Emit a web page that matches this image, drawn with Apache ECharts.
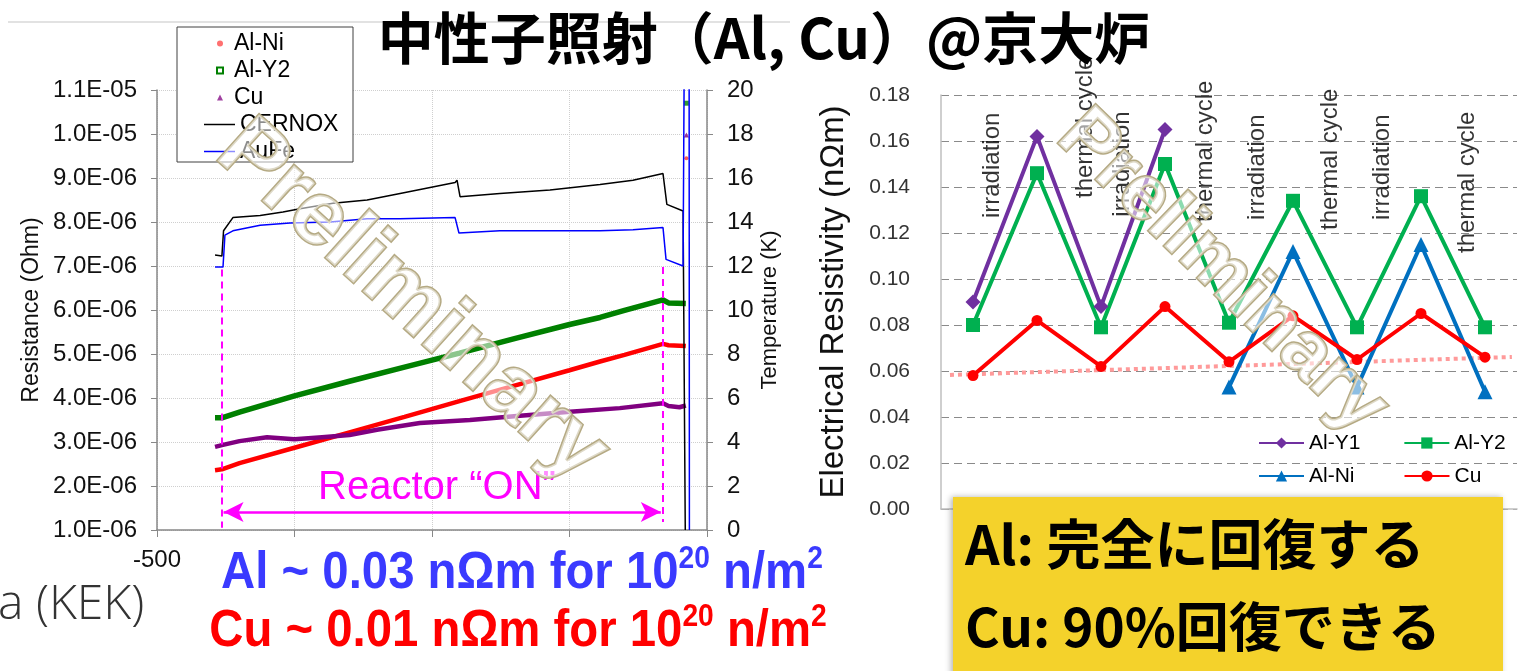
<!DOCTYPE html>
<html><head><meta charset="utf-8">
<script src="https://cdn.jsdelivr.net/npm/echarts@6/dist/echarts.min.js"></script>
<style>html,body{margin:0;padding:0;background:#fff;overflow:hidden}#c{width:1536px;height:671px}</style>
</head><body><div id="c"></div>
<script>
// ================= LEFT CHART DATA (time, resistance in µΩ / temperature in K) =================
const timeTicks = [-500, 0, 500, 1000, 1500];
const alNiR = [[-289,2.36],[-264,2.38],[-200,2.52],[0,2.87],[200,3.22],[400,3.57],[600,3.93],[800,4.28],[1000,4.63],[1111,4.83],[1200,4.98],[1340,5.23],[1360,5.20],[1400,5.19],[1423,5.18]];
const alY2R = [[-289,3.55],[-264,3.55],[-200,3.68],[0,4.05],[200,4.38],[400,4.70],[600,5.02],[800,5.35],[1000,5.67],[1111,5.83],[1200,5.99],[1340,6.23],[1360,6.16],[1423,6.15]];
const cuR = [[-289,2.89],[-264,2.93],[-200,3.02],[-100,3.11],[0,3.06],[100,3.11],[200,3.16],[300,3.28],[456,3.43],[638,3.50],[809,3.59],[1002,3.69],[1183,3.77],[1340,3.88],[1360,3.82],[1400,3.79],[1423,3.83]];
const cernoxT = [[-289,12.5],[-264,12.45],[-258,13.6],[-224,14.2],[-125,14.3],[-42,14.45],[20,14.6],[140,14.85],[264,15.0],[384,15.3],[584,15.8],[591,15.9],[602,15.15],[747,15.3],[929,15.45],[1111,15.7],[1231,15.9],[1340,16.2],[1354,14.8],[1413,14.5],[1418,14.5],[1421,0]];
const aufeT = [[-289,11.95],[-260,11.95],[-253,13.4],[-224,13.6],[-125,13.85],[-16,13.95],[129,14.0],[264,14.15],[384,14.15],[584,14.2],[598,13.5],[747,13.6],[1111,13.6],[1231,13.65],[1340,13.75],[1351,12.3],[1413,12.0],[1416,12.0],[1417,21],[1435,21],[1436,0]];
const endDots = { alNi: [[1425, 9.45]], alY2: [[1425, 10.7]], cu: [[1425, 9.98]] };
const reactorOn = -264, reactorOff = 1340;

// ================= RIGHT CHART DATA (electrical resistivity, nΩm) =================
const stepCats = ['start','irr-1','TC-1','irr-2','TC-2','irr-3','TC-3','irr-4','TC-4'];
const alY1 = [0.090, 0.162, 0.088, 0.165, null, null, null, null, null];
const alY2 = [0.080, 0.146, 0.079, 0.150, 0.081, 0.134, 0.079, 0.136, 0.079];
const alNi = [null, null, null, null, 0.053, 0.112, 0.053, 0.115, 0.051];
const cu   = [0.058, 0.082, 0.062, 0.088, 0.064, 0.084, 0.065, 0.085, 0.066];
const cuTrend = [[-0.36, 0.0583], [8.42, 0.0661]];
const stepNotes = [[0.30,0.1265,'irradiation'],[1.75,0.1352,'thermal cycle'],[2.33,0.1271,'irradiation'],[3.63,0.1248,'thermal cycle'],[4.44,0.1257,'irradiation'],[5.58,0.1213,'thermal cycle'],[6.39,0.1257,'irradiation'],[7.72,0.1113,'thermal cycle']];

const SANS = '"Liberation Sans", Arial, sans-serif';
const JP = '"Noto Sans CJK JP", sans-serif';

function sci(v) {
  const s = (v * 1e-6).toExponential(1);
  const parts = s.split('e');
  const n = parseInt(parts[1], 10);
  const a = Math.abs(n);
  return parts[0] + 'E' + (n < 0 ? '-' : '+') + (a < 10 ? '0' : '') + a;
}
const stripR = n => n.replace(' (R)', '');

const chart = echarts.init(document.getElementById('c'));
chart.setOption({
  animation: false,
  backgroundColor: '#fff',
  textStyle: { fontFamily: SANS },
  grid: [
    { left: 157, top: 90, width: 550, height: 440 },
    { left: 941, top: 95, width: 576, height: 414 }
  ],
  xAxis: [
    { type: 'value', gridIndex: 0, min: timeTicks[0], max: timeTicks[timeTicks.length-1], interval: 500,
      axisLine: { show: true, onZero: false, lineStyle: { color: '#888', width: 1.5 } },
      axisTick: { show: true, length: 7, lineStyle: { color: '#888' } },
      axisLabel: { formatter: v => (v === timeTicks[0] ? String(v) : ''), fontSize: 24, margin: 18, color: '#111' },
      splitLine: { show: true, lineStyle: { color: '#cfcfcf', type: 'dotted' } } },
    { type: 'category', gridIndex: 1, data: stepCats, boundaryGap: true,
      axisLine: { show: true, onZero: false, lineStyle: { color: '#bfbfbf', width: 1.5 } },
      axisTick: { show: false }, axisLabel: { show: false }, splitLine: { show: false } },
    { type: 'value', gridIndex: 1, min: -0.5, max: 8.5, show: false }
  ],
  yAxis: [
    { type: 'value', gridIndex: 0, min: 1, max: 11, interval: 1,
      name: 'Resistance (Ohm)', nameLocation: 'middle', nameRotate: 90, nameGap: 114,
      nameTextStyle: { fontSize: 23, color: '#111' },
      axisLine: { show: true, onZero: false, lineStyle: { color: '#888', width: 1.5 } },
      axisTick: { show: true, length: 6, lineStyle: { color: '#888' } },
      axisLabel: { formatter: sci, fontSize: 24, margin: 20, color: '#111' },
      splitLine: { show: true, lineStyle: { color: '#cfcfcf', type: 'dotted' } } },
    { type: 'value', gridIndex: 0, position: 'right', min: 0, max: 20, interval: 2,
      name: 'Temperature (K)', nameLocation: 'middle', nameRotate: 90, nameGap: 52,
      nameTextStyle: { fontSize: 22, color: '#111' },
      axisLine: { show: true, onZero: false, lineStyle: { color: '#888', width: 1.5 } },
      axisTick: { show: true, length: 6, lineStyle: { color: '#888' } },
      axisLabel: { fontSize: 24, margin: 20, color: '#111' },
      splitLine: { show: false } },
    { type: 'value', gridIndex: 1, min: 0, max: 0.18, interval: 0.02,
      name: 'Electrical Resistivity (nΩm)', nameLocation: 'middle', nameRotate: 90, nameGap: 91,
      nameTextStyle: { fontSize: 33, color: '#111' },
      axisLine: { show: true, onZero: false, lineStyle: { color: '#bfbfbf', width: 1.5 } },
      axisTick: { show: false },
      axisLabel: { formatter: v => v.toFixed(2), fontSize: 21, margin: 31, color: '#333' },
      splitLine: { show: true, lineStyle: { color: '#8a8a8a', type: [8, 5], width: 1.2 } } }
  ],
  legend: [
    { left: 211, top: 25, orient: 'vertical', itemGap: 0, itemWidth: 6, itemHeight: 6, selectedMode: false,
      formatter: stripR, textStyle: { fontSize: 23, lineHeight: 27, color: '#000', padding: [0, 0, 0, 6] },
      data: [ { name: 'Al-Ni (R)', icon: 'circle', itemStyle: { color: '#ff7070' } },
              { name: 'Al-Y2 (R)', icon: 'emptyRect', itemStyle: { color: '#008000' } },
              { name: 'Cu (R)', icon: 'triangle', itemStyle: { color: '#a040a0' } } ] },
    { left: 199, top: 106, orient: 'vertical', itemGap: 0, itemWidth: 31, itemHeight: 1.5, selectedMode: false,
      textStyle: { fontSize: 23, lineHeight: 27, color: '#000' },
      data: [ { name: 'CERNOX', icon: 'rect' }, { name: 'AuFe', icon: 'rect' } ] },
    { left: 1253, top: 426, orient: 'horizontal', itemGap: 43, itemWidth: 45, itemHeight: 14, selectedMode: false,
      textStyle: { fontSize: 21, lineHeight: 24, color: '#000' }, data: ['Al-Y1', 'Al-Y2'] },
    { left: 1253, top: 459, orient: 'horizontal', itemGap: 49, itemWidth: 45, itemHeight: 14, selectedMode: false,
      textStyle: { fontSize: 21, lineHeight: 24, color: '#000' }, data: ['Al-Ni', 'Cu'] }
  ],
  series: [
    // ---- left chart ----
    { name: 'Al-Ni (R)', type: 'line', xAxisIndex: 0, yAxisIndex: 0, data: alNiR, symbol: 'none',
      lineStyle: { color: '#ff0000', width: 4.5 }, itemStyle: { color: '#ff0000' } },
    { name: 'Al-Y2 (R)', type: 'line', xAxisIndex: 0, yAxisIndex: 0, data: alY2R, symbol: 'none',
      lineStyle: { color: '#008000', width: 5.5 }, itemStyle: { color: '#008000' } },
    { name: 'Cu (R)', type: 'line', xAxisIndex: 0, yAxisIndex: 0, data: cuR, symbol: 'none',
      lineStyle: { color: '#800080', width: 4.5 }, itemStyle: { color: '#800080' },
      markLine: { silent: true, symbol: ['none', 'none'], label: { show: false },
        lineStyle: { color: '#ff00ff', width: 2, type: [7, 5] },
        data: [
          [ { coord: [reactorOn, 6.92] }, { coord: [reactorOn, 1.05] } ],
          [ { coord: [reactorOff, 6.98] }, { coord: [reactorOff, 1.18] } ],
          [ { coord: [reactorOn + 6, 1.41], symbol: 'arrow', symbolSize: [15, 20], lineStyle: { type: 'solid', width: 2.5 } },
            { coord: [reactorOff - 8, 1.41], symbol: 'arrow', symbolSize: [15, 20] } ]
        ] },
      markPoint: { silent: true, symbol: 'circle', symbolSize: 0,
        data: [ { coord: [518, 1.95], label: { show: true, position: 'inside', formatter: 'Reactor “ON”', fontSize: 40, color: '#ff00ff', fontFamily: SANS } } ] } },
    { name: 'CERNOX', type: 'line', xAxisIndex: 0, yAxisIndex: 1, data: cernoxT, symbol: 'none',
      lineStyle: { color: '#000000', width: 1.5 }, itemStyle: { color: '#000000' } },
    { name: 'AuFe', type: 'line', xAxisIndex: 0, yAxisIndex: 1, data: aufeT, symbol: 'none',
      lineStyle: { color: '#0000ff', width: 1.5 }, itemStyle: { color: '#0000ff' } },
    { name: 'Al-Ni end', type: 'scatter', xAxisIndex: 0, yAxisIndex: 0, data: endDots.alNi, symbol: 'circle', symbolSize: 4, itemStyle: { color: '#ff3030' } },
    { name: 'Al-Y2 end', type: 'scatter', xAxisIndex: 0, yAxisIndex: 0, data: endDots.alY2, symbol: 'rect', symbolSize: 5, itemStyle: { color: '#008000' } },
    { name: 'Cu end', type: 'scatter', xAxisIndex: 0, yAxisIndex: 0, data: endDots.cu, symbol: 'triangle', symbolSize: 5, itemStyle: { color: '#800080' } },
    // ---- right chart ----
    { name: 'Cu trend', type: 'line', xAxisIndex: 2, yAxisIndex: 2, data: cuTrend, symbol: 'none', z: 1,
      lineStyle: { color: '#ff9a9a', width: 4, type: [4, 4] } },
    { name: 'Al-Y1', type: 'line', xAxisIndex: 1, yAxisIndex: 2, data: alY1, symbol: 'diamond', symbolSize: 15,
      lineStyle: { color: '#7030a0', width: 4 }, itemStyle: { color: '#7030a0' } },
    { name: 'Al-Y2', type: 'line', xAxisIndex: 1, yAxisIndex: 2, data: alY2, symbol: 'rect', symbolSize: 14,
      lineStyle: { color: '#00b050', width: 4 }, itemStyle: { color: '#00b050' } },
    { name: 'Al-Ni', type: 'line', xAxisIndex: 1, yAxisIndex: 2, data: alNi, symbol: 'triangle', symbolSize: 15,
      lineStyle: { color: '#0070c0', width: 4 }, itemStyle: { color: '#0070c0' } },
    { name: 'Cu', type: 'line', xAxisIndex: 1, yAxisIndex: 2, data: cu, symbol: 'circle', symbolSize: 11,
      lineStyle: { color: '#ff0000', width: 4 }, itemStyle: { color: '#ff0000' } },
    { name: 'steps', type: 'scatter', xAxisIndex: 2, yAxisIndex: 2, data: stepNotes, symbolSize: 0, silent: true,
      label: { show: true, position: [0, 0], rotate: 90, align: 'left', verticalAlign: 'middle',
        formatter: p => p.data[2], fontSize: 24, color: '#000', fontFamily: SANS } }
  ],
  graphic: [
    { type: 'line', z: 0, shape: { x1: 8, y1: 22, x2: 790, y2: 22 }, style: { stroke: '#d8d8d8', lineWidth: 1.5 } },
    { type: 'rect', z: 3, shape: { x: 177, y: 27, width: 176, height: 135 }, style: { fill: '#fff', stroke: '#404040', lineWidth: 1 } },
    { type: 'text', z: 10, x: 764, y: 38,
      style: { text: '中性子照射（Al, Cu）@京大炉', fontSize: 56, fontWeight: 'bold', fontFamily: JP, fill: '#000', align: 'center', verticalAlign: 'middle' } },
    { type: 'text', z: 20, x: 412, y: 302, rotation: -0.733,
      style: { text: 'Preliminary', fontSize: 90, fontWeight: 'bold', fontFamily: SANS, fill: 'rgba(255,255,255,0.55)', stroke: '#b5aa84', lineWidth: 3, align: 'center', verticalAlign: 'middle' } },
    { type: 'text', z: 20, x: 1222, y: 272, rotation: -0.77,
      style: { text: 'Preliminary', fontSize: 78, fontWeight: 'bold', fontFamily: SANS, fill: 'rgba(255,255,255,0.55)', stroke: '#b5aa84', lineWidth: 3, align: 'center', verticalAlign: 'middle' } },
    { type: 'text', z: 10, x: -2, y: 605,
      style: { text: 'a (KEK)', fontSize: 48, fontFamily: '"Open Sans", sans-serif', fontWeight: 300, fill: '#333', align: 'left', verticalAlign: 'middle' } },
    { type: 'text', z: 10, x: 522, y: 572, scaleX: 0.91,
      style: { text: '{a|Al ~ 0.03 nΩm for 10}{s|20}{a| n/m}{s|2}', align: 'center', verticalAlign: 'middle',
        rich: { a: { fontSize: 52, fontWeight: 'bold', fontFamily: SANS, fill: '#3a3aff', lineHeight: 56, verticalAlign: 'bottom' },
                s: { fontSize: 31, fontWeight: 'bold', fontFamily: SANS, fill: '#3a3aff', lineHeight: 31, verticalAlign: 'top' } } } },
    { type: 'text', z: 10, x: 518, y: 630, scaleX: 0.91,
      style: { text: '{a|Cu ~ 0.01 nΩm for 10}{s|20}{a| n/m}{s|2}', align: 'center', verticalAlign: 'middle',
        rich: { a: { fontSize: 52, fontWeight: 'bold', fontFamily: SANS, fill: '#ff0000', lineHeight: 56, verticalAlign: 'bottom' },
                s: { fontSize: 31, fontWeight: 'bold', fontFamily: SANS, fill: '#ff0000', lineHeight: 31, verticalAlign: 'top' } } } },
    { type: 'rect', z: 30, shape: { x: 953, y: 497, width: 550, height: 190 },
      style: { fill: '#f4d22b', shadowBlur: 6, shadowColor: 'rgba(0,0,0,0.3)', shadowOffsetX: -2, shadowOffsetY: 0 } },
    { type: 'text', z: 31, x: 965, y: 544,
      style: { text: 'Al: 完全に回復する', fontSize: 54, fontWeight: 'bold', fontFamily: JP, fill: '#000', align: 'left', verticalAlign: 'middle' } },
    { type: 'text', z: 31, x: 965, y: 627,
      style: { text: 'Cu: 90%回復できる', fontSize: 53, fontWeight: 'bold', fontFamily: JP, fill: '#000', align: 'left', verticalAlign: 'middle' } }
  ]
});
</script></body></html>
